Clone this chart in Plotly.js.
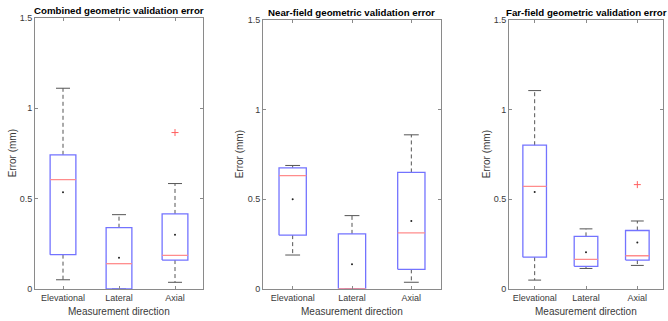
<!DOCTYPE html>
<html>
<head>
<meta charset="utf-8">
<script src="https://cdn.plot.ly/plotly-3.0.1.min.js"></script>
<style>html,body{margin:0;padding:0;background:#fff;}#chart{width:668px;height:321px;}</style>
</head>
<body>
<div id="chart"></div>
<script>
// ---- data ----
var categories = ['Elevational', 'Lateral', 'Axial'];
var panelTitles = ['Combined geometric validation error', 'Near-field geometric validation error', 'Far-field geometric validation error'];

var combinedLower  = [0.051, 0.000, 0.037];
var combinedQ1     = [0.190, 0.000, 0.160];
var combinedMedian = [0.605, 0.140, 0.186];
var combinedQ3     = [0.742, 0.339, 0.415];
var combinedUpper  = [1.110, 0.411, 0.583];
var combinedMean   = [0.535, 0.173, 0.300];
var combinedOutliers = [[], [], [0.865]];

var nearLower  = [0.188, 0.000, 0.036];
var nearQ1     = [0.299, 0.000, 0.108];
var nearMedian = [0.631, 0.000, 0.312];
var nearQ3     = [0.675, 0.306, 0.649];
var nearUpper  = [0.688, 0.408, 0.859];
var nearMean   = [0.500, 0.136, 0.378];
var nearOutliers = [[], [], []];

var farLower  = [0.048, 0.113, 0.130];
var farQ1     = [0.176, 0.125, 0.160];
var farMedian = [0.571, 0.164, 0.184];
var farQ3     = [0.801, 0.292, 0.325];
var farUpper  = [1.106, 0.334, 0.378];
var farMean   = [0.540, 0.204, 0.258];
var farOutliers = [[], [], [0.581]];

var yTickVals = [0, 0.5, 1, 1.5];
var yTickText = ['0', '0.5', '1', '1.5'];

// ---- drawing ----
var FONT = '"Liberation Sans", Arial, Helvetica, sans-serif';
var traces = [];
var BOX_HW = 0.23, CAP_HW = 0.125;

function panel(idx, lower, q1, med, q3, upper, mean, outl) {
  var xa = idx === 1 ? 'x' : 'x' + idx;
  var ya = idx === 1 ? 'y' : 'y' + idx;
  var bx = [], by = [], mx = [], my = [], wx = [], wy = [], cx = [], cy = [], ox = [], oy = [], ax = [], ay = [];
  for (var i = 0; i < categories.length; i++) {
    var c = i + 1;
    wx.push(c, c, null, c, c, null);
    wy.push(q3[i], upper[i], null, q1[i], lower[i], null);
    cx.push(c - CAP_HW, c + CAP_HW, null, c - CAP_HW, c + CAP_HW, null);
    cy.push(upper[i], upper[i], null, lower[i], lower[i], null);
    bx.push(c - BOX_HW, c + BOX_HW, c + BOX_HW, c - BOX_HW, c - BOX_HW, null);
    by.push(q1[i], q1[i], q3[i], q3[i], q1[i], null);
    mx.push(c - BOX_HW, c + BOX_HW, null);
    my.push(med[i], med[i], null);
    ax.push(c); ay.push(mean[i]);
    for (var k = 0; k < outl[i].length; k++) { ox.push(c); oy.push(outl[i][k]); }
  }
  traces.push({type: 'scatter', mode: 'lines', x: wx, y: wy, xaxis: xa, yaxis: ya, hoverinfo: 'skip',
    line: {color: '#555555', width: 1, dash: '4px,3px'}, showlegend: false});
  traces.push({type: 'scatter', mode: 'lines', x: cx, y: cy, xaxis: xa, yaxis: ya, hoverinfo: 'skip',
    line: {color: '#555555', width: 1}, showlegend: false});
  traces.push({type: 'scatter', mode: 'lines', x: bx, y: by, xaxis: xa, yaxis: ya, hoverinfo: 'skip',
    line: {color: '#7373ff', width: 1.3}, showlegend: false});
  traces.push({type: 'scatter', mode: 'lines', x: mx, y: my, xaxis: xa, yaxis: ya, hoverinfo: 'skip',
    line: {color: '#ff8c8c', width: 1.3}, showlegend: false});
  traces.push({type: 'scatter', mode: 'markers', x: ax, y: ay, xaxis: xa, yaxis: ya, hoverinfo: 'skip',
    marker: {color: '#222222', size: 2}, showlegend: false});
  if (ox.length) {
    traces.push({type: 'scatter', mode: 'markers', x: ox, y: oy, xaxis: xa, yaxis: ya, hoverinfo: 'skip',
      marker: {symbol: 'cross-thin-open', color: '#ff6060', size: 5, line: {color: '#ff6060', width: 1}}, showlegend: false});
  }
}

panel(1, combinedLower, combinedQ1, combinedMedian, combinedQ3, combinedUpper, combinedMean, combinedOutliers);
panel(2, nearLower, nearQ1, nearMedian, nearQ3, nearUpper, nearMean, nearOutliers);
panel(3, farLower, farQ1, farMedian, farQ3, farUpper, farMean, farOutliers);

var W = 668, H = 321;
var xDomains = [[35 / W, 203 / W], [263 / W, 441 / W], [509 / W, 663 / W]];
var yDomains = [[1 - 289 / H, 1 - 17.7 / H], [1 - 288.7 / H, 1 - 20 / H], [1 - 288.7 / H, 1 - 20 / H]];

var layout = {
  width: W, height: H,
  margin: {l: 0, r: 0, t: 0, b: 0},
  paper_bgcolor: '#ffffff', plot_bgcolor: '#ffffff',
  font: {family: FONT, size: 9, color: '#3a3a3a'},
  showlegend: false,
  annotations: []
};

var yTitleX = [12, 239, 486];
var xTitleY = 311;
for (var p = 0; p < 3; p++) {
  var sfx = p === 0 ? '' : String(p + 1);
  layout['xaxis' + sfx] = {
    domain: xDomains[p], anchor: 'y' + sfx, range: [0.5, 3.5],
    tickmode: 'array', tickvals: [1, 2, 3], ticktext: categories,
    ticks: 'inside', ticklen: 3, tickcolor: '#8a8a8a', tickwidth: 1,
    showline: true, linecolor: '#8a8a8a', linewidth: 1, mirror: 'ticks',
    showgrid: false, zeroline: false, fixedrange: true,
    tickfont: {family: FONT, size: 9, color: '#3a3a3a'}
  };
  layout['yaxis' + sfx] = {
    domain: yDomains[p], anchor: 'x' + sfx, range: [0, 1.5],
    tickmode: 'array', tickvals: yTickVals, ticktext: yTickText,
    ticks: 'inside', ticklen: 3, tickcolor: '#8a8a8a', tickwidth: 1,
    showline: true, linecolor: '#8a8a8a', linewidth: 1, mirror: 'ticks',
    showgrid: false, zeroline: false, fixedrange: true,
    tickfont: {family: FONT, size: 9, color: '#3a3a3a'}
  };
  var cxp = (xDomains[p][0] + xDomains[p][1]) / 2;
  layout.annotations.push({
    text: '<b>' + panelTitles[p] + '</b>', xref: 'paper', yref: 'paper',
    x: cxp, y: yDomains[p][1], xanchor: 'center', yanchor: 'bottom', yshift: 0,
    showarrow: false, font: {family: FONT, size: 9.7, color: '#000000'}
  });
  layout.annotations.push({
    text: 'Measurement direction', xref: 'paper', yref: 'paper',
    x: cxp, y: 1 - xTitleY / H, xanchor: 'center', yanchor: 'middle',
    showarrow: false, font: {family: FONT, size: 10, color: '#3a3a3a'}
  });
  layout.annotations.push({
    text: 'Error (mm)', xref: 'paper', yref: 'paper',
    x: yTitleX[p] / W, y: (yDomains[p][0] + yDomains[p][1]) / 2, xanchor: 'center', yanchor: 'middle',
    textangle: -90, showarrow: false, font: {family: FONT, size: 10, color: '#3a3a3a'}
  });
}

Plotly.newPlot('chart', traces, layout, {staticPlot: true, displayModeBar: false});
</script>
</body>
</html>
